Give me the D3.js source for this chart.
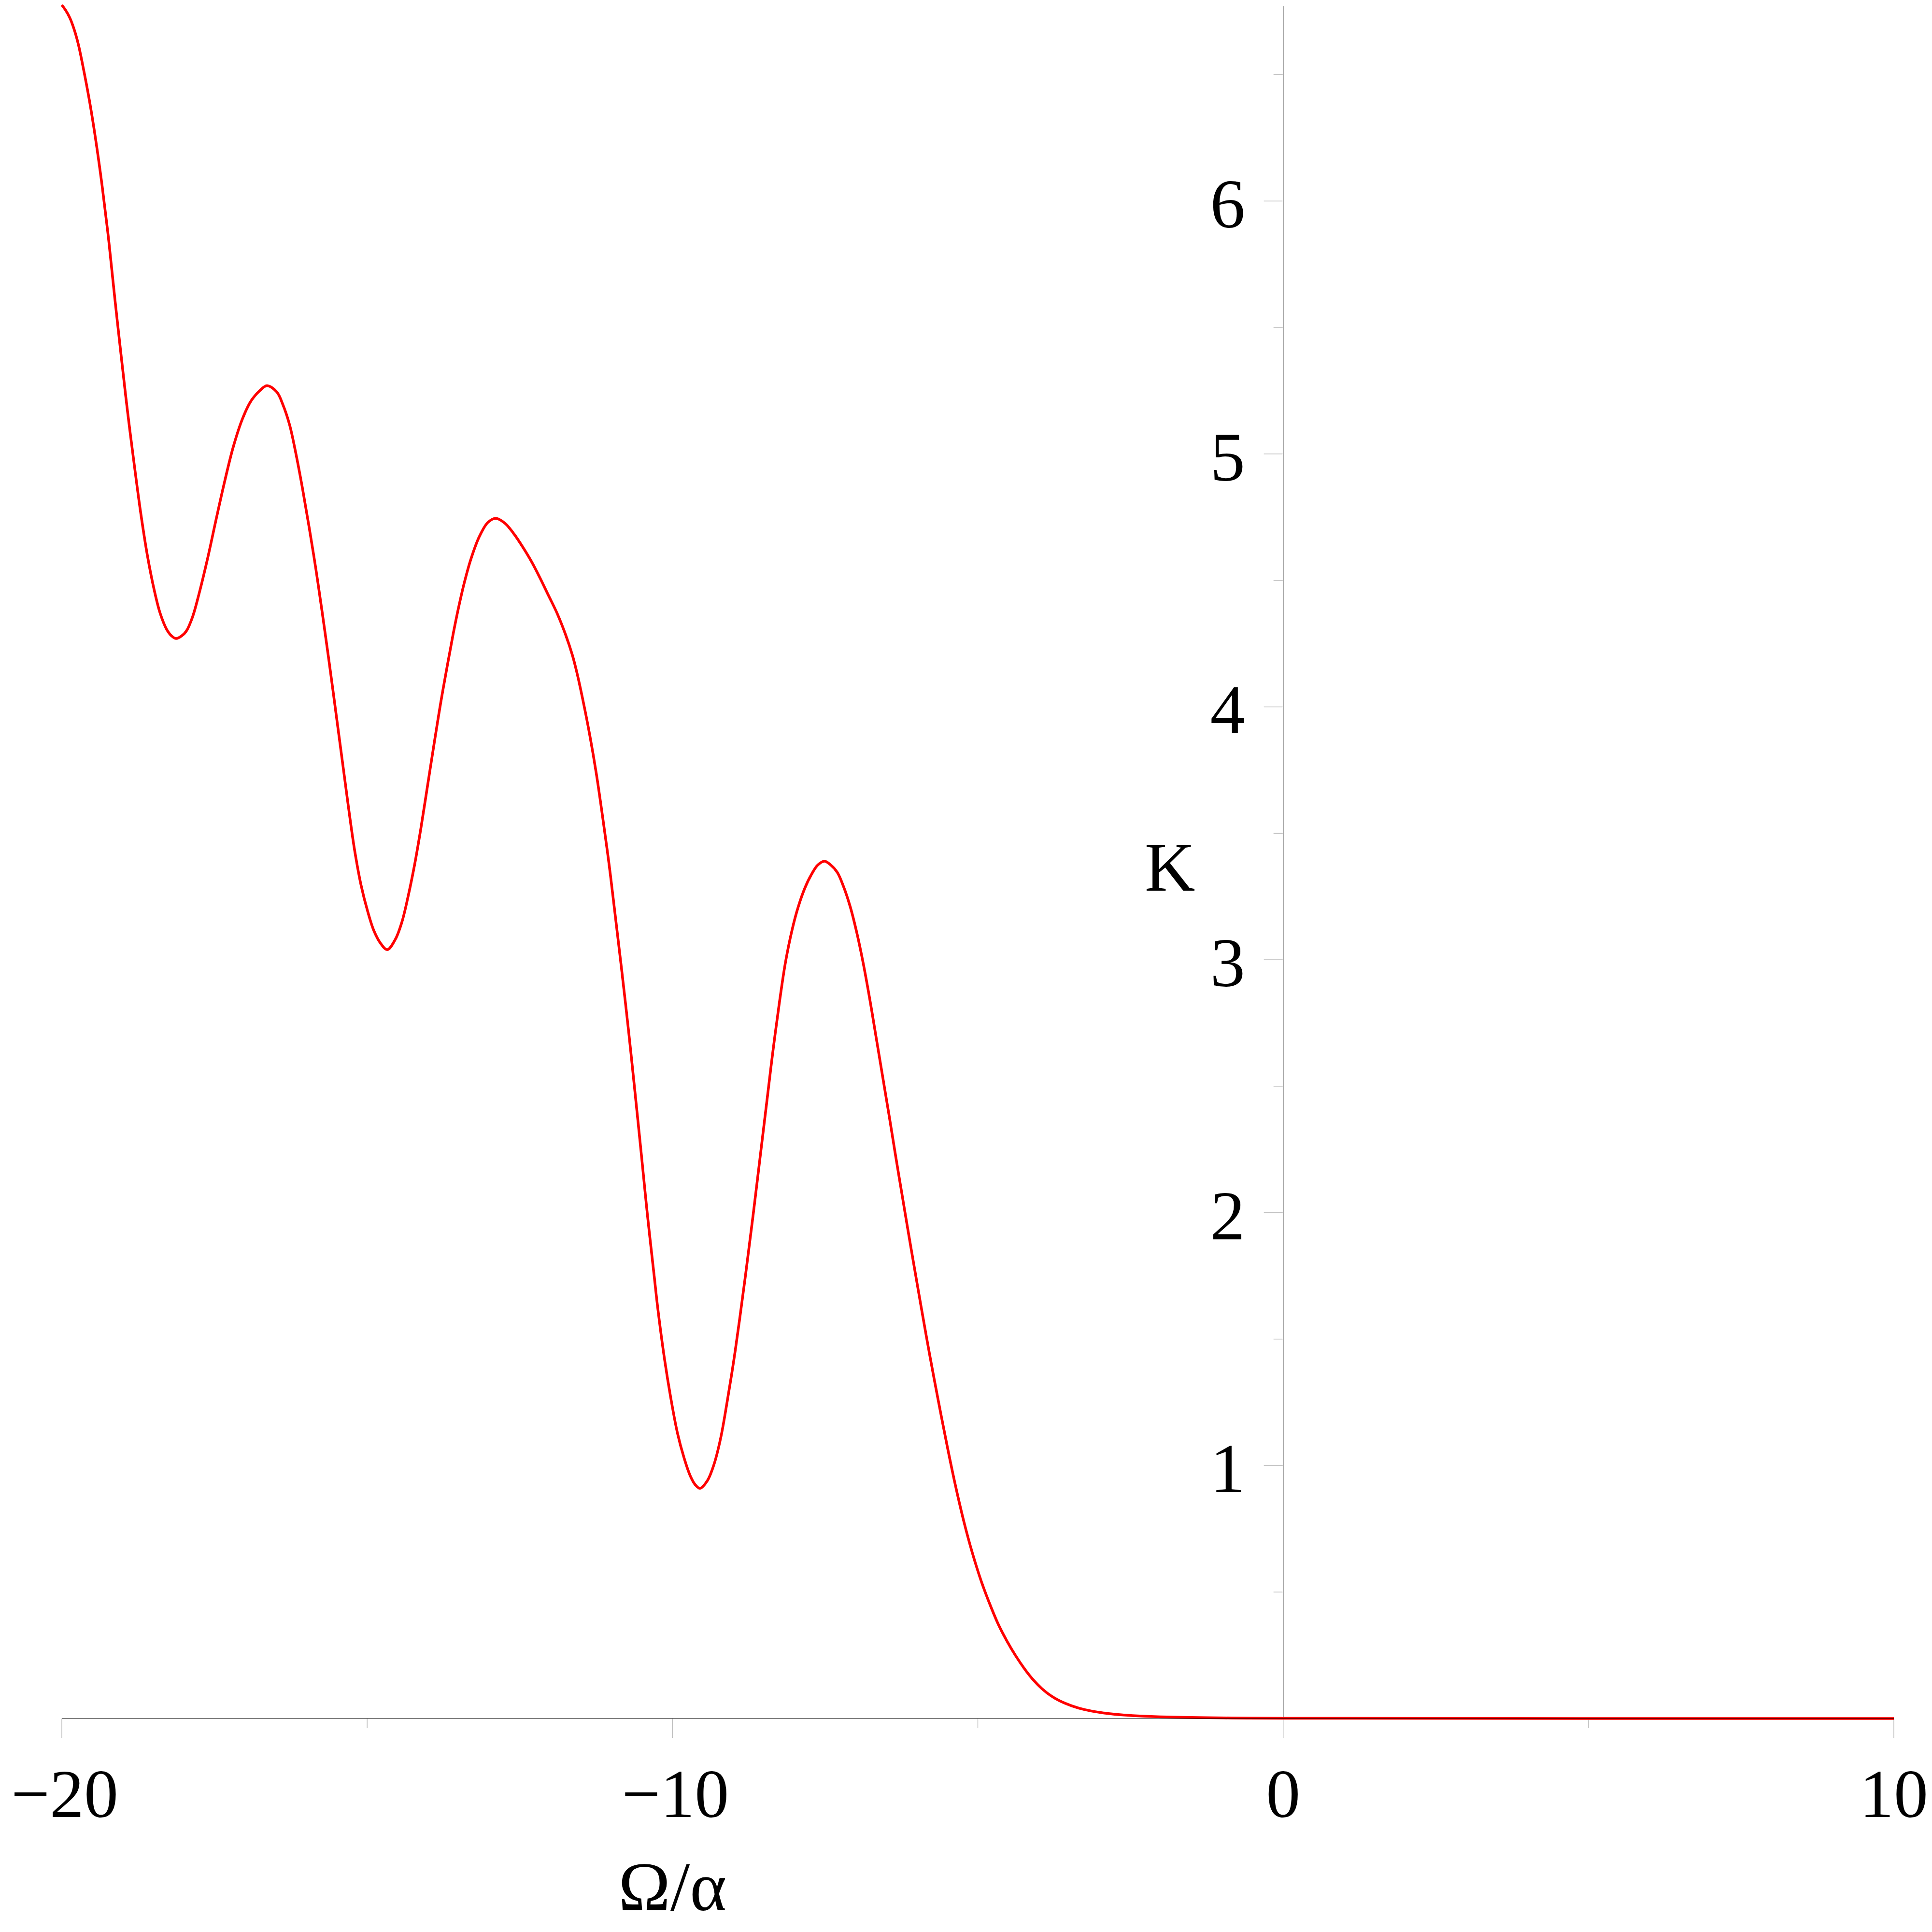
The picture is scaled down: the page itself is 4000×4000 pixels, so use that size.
<!DOCTYPE html>
<html>
<head>
<meta charset="utf-8">
<script src="https://cdn.jsdelivr.net/npm/d3@7"></script>
<style>
  html, body { margin: 0; padding: 0; background: #fff; }
  svg { display: block; }
</style>
</head>
<body>
<script>
// ---- data ----
const omega = [
  -20.00, -19.94, -19.87, -19.80, -19.73, -19.66, -19.55, -19.45, -19.34, -19.23,
  -19.13, -19.02, -18.92, -18.81, -18.71, -18.60, -18.49, -18.39, -18.28, -18.20,
  -18.13, -18.04, -17.96, -17.86, -17.75, -17.61, -17.47, -17.33, -17.19, -17.04,
  -16.90, -16.76, -16.64, -16.48, -16.38, -16.27, -16.17, -16.06, -15.95, -15.84,
  -15.74, -15.63, -15.56, -15.42, -15.31, -15.21, -15.10, -14.99, -14.89, -14.78,
  -14.67, -14.54, -14.43, -14.33, -14.22, -14.12, -14.01, -13.90, -13.80, -13.69,
  -13.59, -13.51, -13.41, -13.30, -13.16, -13.02, -12.89, -12.74, -12.60, -12.46,
  -12.31, -12.17, -12.03, -11.89, -11.75, -11.64, -11.57, -11.47, -11.36, -11.25,
  -11.15, -11.04, -10.94, -10.83, -10.72, -10.62, -10.51, -10.41, -10.30, -10.24,
  -10.13, -10.03, -9.92, -9.81, -9.71, -9.63, -9.55, -9.43, -9.32, -9.21,
  -9.11, -9.00, -8.90, -8.79, -8.68, -8.57, -8.46, -8.36, -8.25, -8.15,
  -8.04, -7.94, -7.83, -7.73, -7.62, -7.51, -7.41, -7.30, -7.20, -7.09,
  -6.98, -6.88, -6.77, -6.67, -6.56, -6.45, -6.35, -6.24, -6.14, -6.03,
  -5.93, -5.79, -5.65, -5.50, -5.37, -5.23, -5.09, -4.94, -4.80, -4.66,
  -4.52, -4.38, -4.24, -4.10, -3.95, -3.81, -3.67, -3.46, -3.25, -2.97,
  -2.61, -1.91, -0.85, 0.00, 10.00
];
const K = [
  6.775, 6.755, 6.725, 6.68, 6.62, 6.54, 6.40, 6.25, 6.06, 5.84,
  5.61, 5.37, 5.16, 4.95, 4.77, 4.60, 4.465, 4.37, 4.305, 4.28,
  4.27, 4.28, 4.30, 4.355, 4.45, 4.59, 4.745, 4.895, 5.03, 5.14,
  5.21, 5.25, 5.27, 5.245, 5.195, 5.115, 5.005, 4.865, 4.71, 4.545,
  4.38, 4.19, 4.065, 3.81, 3.61, 3.44, 3.295, 3.19, 3.115, 3.065,
  3.04, 3.08, 3.15, 3.25, 3.38, 3.52, 3.69, 3.86, 4.01, 4.16,
  4.29, 4.385, 4.49, 4.585, 4.675, 4.73, 4.745, 4.725, 4.685, 4.635,
  4.575, 4.51, 4.44, 4.37, 4.285, 4.205, 4.14, 4.03, 3.895, 3.74,
  3.575, 3.38, 3.18, 2.955, 2.72, 2.49, 2.23, 1.99, 1.75, 1.62,
  1.42, 1.27, 1.13, 1.03, 0.96, 0.925, 0.91, 0.94, 1.005, 1.11,
  1.245, 1.41, 1.58, 1.78, 1.99, 2.21, 2.43, 2.63, 2.83, 2.99,
  3.12, 3.21, 3.285, 3.335, 3.375, 3.39, 3.375, 3.345, 3.29, 3.21,
  3.105, 2.99, 2.845, 2.70, 2.54, 2.38, 2.23, 2.07, 1.925, 1.77,
  1.63, 1.44, 1.26, 1.075, 0.925, 0.78, 0.655, 0.54, 0.45, 0.37,
  0.305, 0.248, 0.198, 0.155, 0.118, 0.091, 0.071, 0.050, 0.035, 0.023,
  0.014, 0.006, 0.002, 0.001, 0.000
];
const xMajorTicks = [-20, -10, 0, 10];
const xMinorTicks = [-15, -5, 5];
const xTickLabels = ["\u221220", "\u221210", "0", "10"];
const yMajorTicks = [1, 2, 3, 4, 5, 6];
const yMinorTicks = [0.5, 1.5, 2.5, 3.5, 4.5, 5.5, 6.5];
const yTickLabels = ["1", "2", "3", "4", "5", "6"];
const xTitle = "\u03A9/\u03B1";
const yTitle = "K";

// ---- layout ----
const W = 4000, H = 4000;
const x = d3.scaleLinear().domain([-20, 10]).range([128, 3921]);
const y = d3.scaleLinear().domain([0, 6.77]).range([3558, 13]);
const font = "'Liberation Serif', 'Times New Roman', serif";

const svg = d3.select("body").append("svg")
  .attr("width", W).attr("height", H)
  .attr("viewBox", `0 0 ${W} ${H}`);
svg.append("rect").attr("width", W).attr("height", H).attr("fill", "#fff");

const tickColor = "#bdbdbd";

// x ticks
svg.append("g").selectAll("line").data(xMajorTicks).join("line")
  .attr("x1", d => x(d)).attr("x2", d => x(d))
  .attr("y1", y(0)).attr("y2", y(0) + 40)
  .attr("stroke", tickColor).attr("stroke-width", 1.5);
svg.append("g").selectAll("line").data(xMinorTicks).join("line")
  .attr("x1", d => x(d)).attr("x2", d => x(d))
  .attr("y1", y(0)).attr("y2", y(0) + 20)
  .attr("stroke", tickColor).attr("stroke-width", 1.5);

// y ticks
svg.append("g").selectAll("line").data(yMajorTicks).join("line")
  .attr("x1", x(0) - 40).attr("x2", x(0))
  .attr("y1", d => y(d)).attr("y2", d => y(d))
  .attr("stroke", tickColor).attr("stroke-width", 1.5);
svg.append("g").selectAll("line").data(yMinorTicks).join("line")
  .attr("x1", x(0) - 20).attr("x2", x(0))
  .attr("y1", d => y(d)).attr("y2", d => y(d))
  .attr("stroke", tickColor).attr("stroke-width", 1.5);

// y axis line
svg.append("line")
  .attr("x1", x(0)).attr("x2", x(0))
  .attr("y1", y(6.77)).attr("y2", y(0))
  .attr("stroke", "#2a2a2a").attr("stroke-width", 1.3);

// curve
const pts = omega.map((o, i) => [o, K[i]]);
const line = d3.line().x(d => x(d[0])).y(d => y(d[1])).curve(d3.curveCatmullRom.alpha(0.5));
svg.append("path")
  .attr("d", line(pts))
  .attr("fill", "none")
  .attr("stroke", "#ff0000")
  .attr("stroke-width", 5.5)
  .attr("stroke-linejoin", "round");

// x axis line (drawn over the curve, multiplied)
svg.append("line")
  .attr("x1", x(-20)).attr("x2", x(10))
  .attr("y1", y(0)).attr("y2", y(0))
  .attr("stroke", "#808080").attr("stroke-width", 2)
  .style("mix-blend-mode", "multiply");

// x tick labels
svg.append("g").selectAll("text").data(xMajorTicks).join("text")
  .attr("x", d => x(d) + (d < 0 ? 6 : 0))
  .attr("y", 3762)
  .attr("text-anchor", "middle")
  .attr("font-family", font).attr("font-size", 142).attr("fill", "#000")
  .text((d, i) => xTickLabels[i]);

// y tick labels
svg.append("g").selectAll("text").data(yMajorTicks).join("text")
  .attr("x", 2578)
  .attr("y", d => y(d) + 55)
  .attr("text-anchor", "end")
  .attr("font-family", font).attr("font-size", 145).attr("fill", "#000")
  .text((d, i) => yTickLabels[i]);

// axis titles
svg.append("text")
  .attr("x", x(-10)).attr("y", 3955)
  .attr("text-anchor", "middle")
  .attr("font-family", font).attr("font-size", 145).attr("fill", "#000")
  .text(xTitle);
svg.append("text")
  .attr("x", 2422).attr("y", 1844)
  .attr("text-anchor", "middle")
  .attr("font-family", font).attr("font-size", 145).attr("fill", "#000")
  .text(yTitle);
</script>
</body>
</html>
